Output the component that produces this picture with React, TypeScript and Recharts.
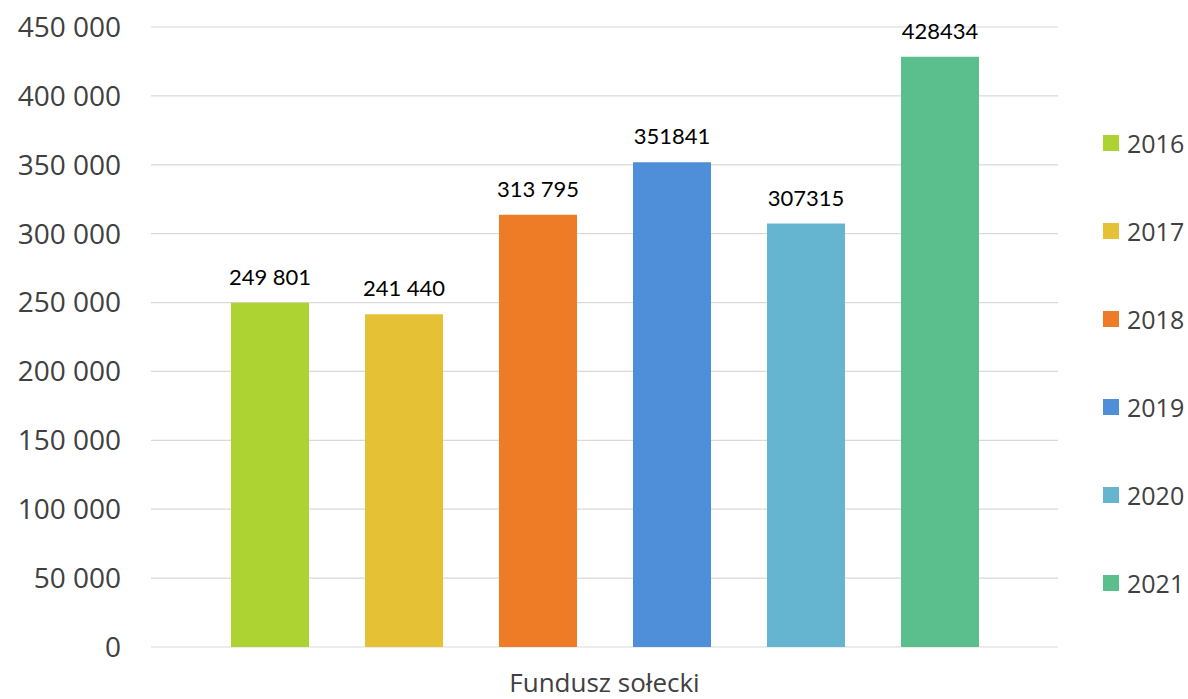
import React from 'react';
import { BarChart, Bar, XAxis, YAxis, CartesianGrid, Legend, LabelList } from 'recharts';

const categories = ['Fundusz sołecki'];
const seriesNames = ['2016', '2017', '2018', '2019', '2020', '2021'];
const seriesValues = [249801, 241440, 313795, 351841, 307315, 428434];
const seriesLabels = ['249 801', '241 440', '313 795', '351841', '307315', '428434'];
const seriesColors = ['#ADD333', '#E5C135', '#EE7B26', '#4F8FDA', '#66B5D0', '#5BBE8D'];
const yTicks = [0, 50000, 100000, 150000, 200000, 250000, 300000, 350000, 400000, 450000];

const data = categories.map((c) => {
  const row: Record<string, string | number> = { name: c };
  seriesNames.forEach((s, i) => {
    row['y' + s] = seriesValues[i];
  });
  return row;
});

const fmt = (v: number) => String(v).replace(/\B(?=(\d{3})+(?!\d))/g, ' ');

const LegendContent = (props: any) => {
  const payload = props.payload || [];
  return (
    <div>
      {payload.map((p: any) => (
        <div key={p.value} style={{ height: 88, display: 'flex', alignItems: 'center' }}>
          <div style={{ width: 16, height: 16, background: p.color, marginRight: 8 }} />
          <span style={{ fontFamily: 'Open Sans', fontSize: 25, color: '#404040', lineHeight: '25px' }}>{p.value}</span>
        </div>
      ))}
    </div>
  );
};

export default function App() {
  return (
    <div style={{ position: 'absolute', left: 0, top: 0, background: '#fff' }}>
      <BarChart
        width={1188}
        height={699}
        data={data}
        margin={{ top: 27, right: 130, bottom: 0, left: 0 }}
        barSize={78}
        barGap={56}
      >
        <CartesianGrid vertical={false} stroke="#d9d9d9" strokeWidth={1.2} />
        <XAxis
          dataKey="name"
          height={52}
          axisLine={false}
          tickLine={false}
          tickSize={0}
          tickMargin={27}
          tick={{ fontFamily: 'Open Sans', fontSize: 26, fill: '#404040' }}
        />
        <YAxis
          width={151}
          domain={[0, 450000]}
          ticks={yTicks}
          interval={0}
          axisLine={false}
          tickLine={false}
          tickSize={0}
          tickMargin={30}
          tickFormatter={fmt}
          tick={{ fontFamily: 'Open Sans', fontSize: 28, fill: '#404040' }}
        />
        <Legend
          layout="vertical"
          align="center"
          verticalAlign="middle"
          content={<LegendContent />}
          wrapperStyle={{ left: 1103, top: 99, width: 85 }}
        />
        {seriesNames.map((s, i) => (
          <Bar key={s} dataKey={'y' + s} name={s} fill={seriesColors[i]} isAnimationActive={false}>
            <LabelList
              dataKey={'y' + s}
              position="top"
              offset={18}
              formatter={() => seriesLabels[i]}
              style={{ fontFamily: 'Lato', fontSize: 22, fill: '#000' }}
            />
          </Bar>
        ))}
      </BarChart>
    </div>
  );
}
